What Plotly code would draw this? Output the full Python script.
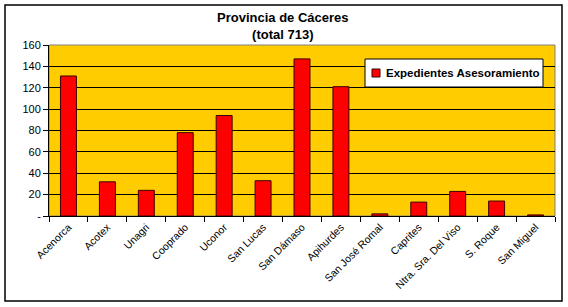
import plotly.graph_objects as go

categories = ["Acenorca", "Acotex", "Unagri", "Cooprado", "Uconor", "San Lucas",
              "San Dámaso", "Apihurdes", "San José Romal", "Caprites",
              "Ntra. Sra. Del Viso", "S. Roque", "San Miguel"]
values = [131, 32, 24, 78, 94, 33, 147, 121, 2, 13, 23, 14, 1]
series_name = "Expedientes Asesoramiento"
title_lines = ["Provincia de Cáceres", "(total 713)"]
y_ticks = [0, 20, 40, 60, 80, 100, 120, 140, 160]
y_ticktext = ["-", "20", "40", "60", "80", "100", "120", "140", "160"]

W, H = 568, 307
L, R, T, B = 49, 13, 45, 91
pw, ph = W - L - R, H - T - B

def px_x(x):
    return (x - L) / pw

def px_y(y):
    return (H - B - y) / ph

BAR_COLOR = "#FF0000"
BAR_LINE = "#3a0000"

fig = go.Figure()
fig.add_trace(go.Bar(
    x=categories, y=values, name=series_name,
    marker=dict(color=BAR_COLOR, line=dict(color=BAR_LINE, width=1)),
    width=0.41, showlegend=False,
))

fig.update_layout(
    width=W, height=H,
    margin=dict(l=L, r=R, t=T, b=B),
    paper_bgcolor="white",
    plot_bgcolor="#FFCC00",
    font=dict(family="Liberation Sans, Arial", color="black", size=11),
    showlegend=False,
)

# title
fig.add_annotation(
    text="<b>" + title_lines[0] + "</b><br><b>" + title_lines[1] + "</b>",
    xref="paper", yref="paper", x=px_x(283), y=px_y(25.5),
    xanchor="center", yanchor="middle", showarrow=False,
    font=dict(size=13, family="Liberation Sans, Arial", color="black"),
)

# legend box (drawn manually to match the compact Excel legend)
fig.add_shape(type="rect", xref="paper", yref="paper",
              x0=px_x(365), x1=px_x(543), y0=px_y(87), y1=px_y(59),
              line=dict(color="black", width=1), fillcolor="white")
fig.add_shape(type="rect", xref="paper", yref="paper",
              x0=px_x(372), x1=px_x(380), y0=px_y(77), y1=px_y(69),
              line=dict(color=BAR_LINE, width=1), fillcolor=BAR_COLOR)
fig.add_annotation(
    text="<b>" + series_name + "</b>",
    xref="paper", yref="paper", x=px_x(384), y=px_y(73),
    xanchor="left", yanchor="middle", showarrow=False,
    font=dict(size=11.5, family="Liberation Sans, Arial", color="black"),
)

fig.update_xaxes(
    type="category",
    tickangle=-45,
    tickson="boundaries",
    ticks="outside", ticklen=5, tickcolor="black",
    showline=True, linecolor="black", linewidth=1,
    showgrid=False,
    tickfont=dict(size=10.5, family="Liberation Sans, Arial", color="black"),
)
fig.update_yaxes(
    range=[0, 160],
    tickvals=y_ticks, ticktext=y_ticktext,
    ticks="outside", ticklen=5, tickcolor="black",
    showline=True, linecolor="black", linewidth=1,
    showgrid=True, gridcolor="black", gridwidth=1,
    zeroline=False,
    tickfont=dict(size=11, family="Liberation Sans, Arial", color="black"),
)

fig.add_shape(type="rect", xref="paper", yref="paper", x0=0, x1=1, y0=0, y1=1,
              line=dict(color="#808080", width=1), fillcolor="rgba(0,0,0,0)", layer="below")
fig.add_shape(type="rect", xref="paper", yref="paper",
              x0=px_x(5), x1=px_x(562), y0=px_y(301), y1=px_y(5),
              line=dict(color="black", width=1.5), fillcolor="rgba(0,0,0,0)")

fig.write_html("out.html")
